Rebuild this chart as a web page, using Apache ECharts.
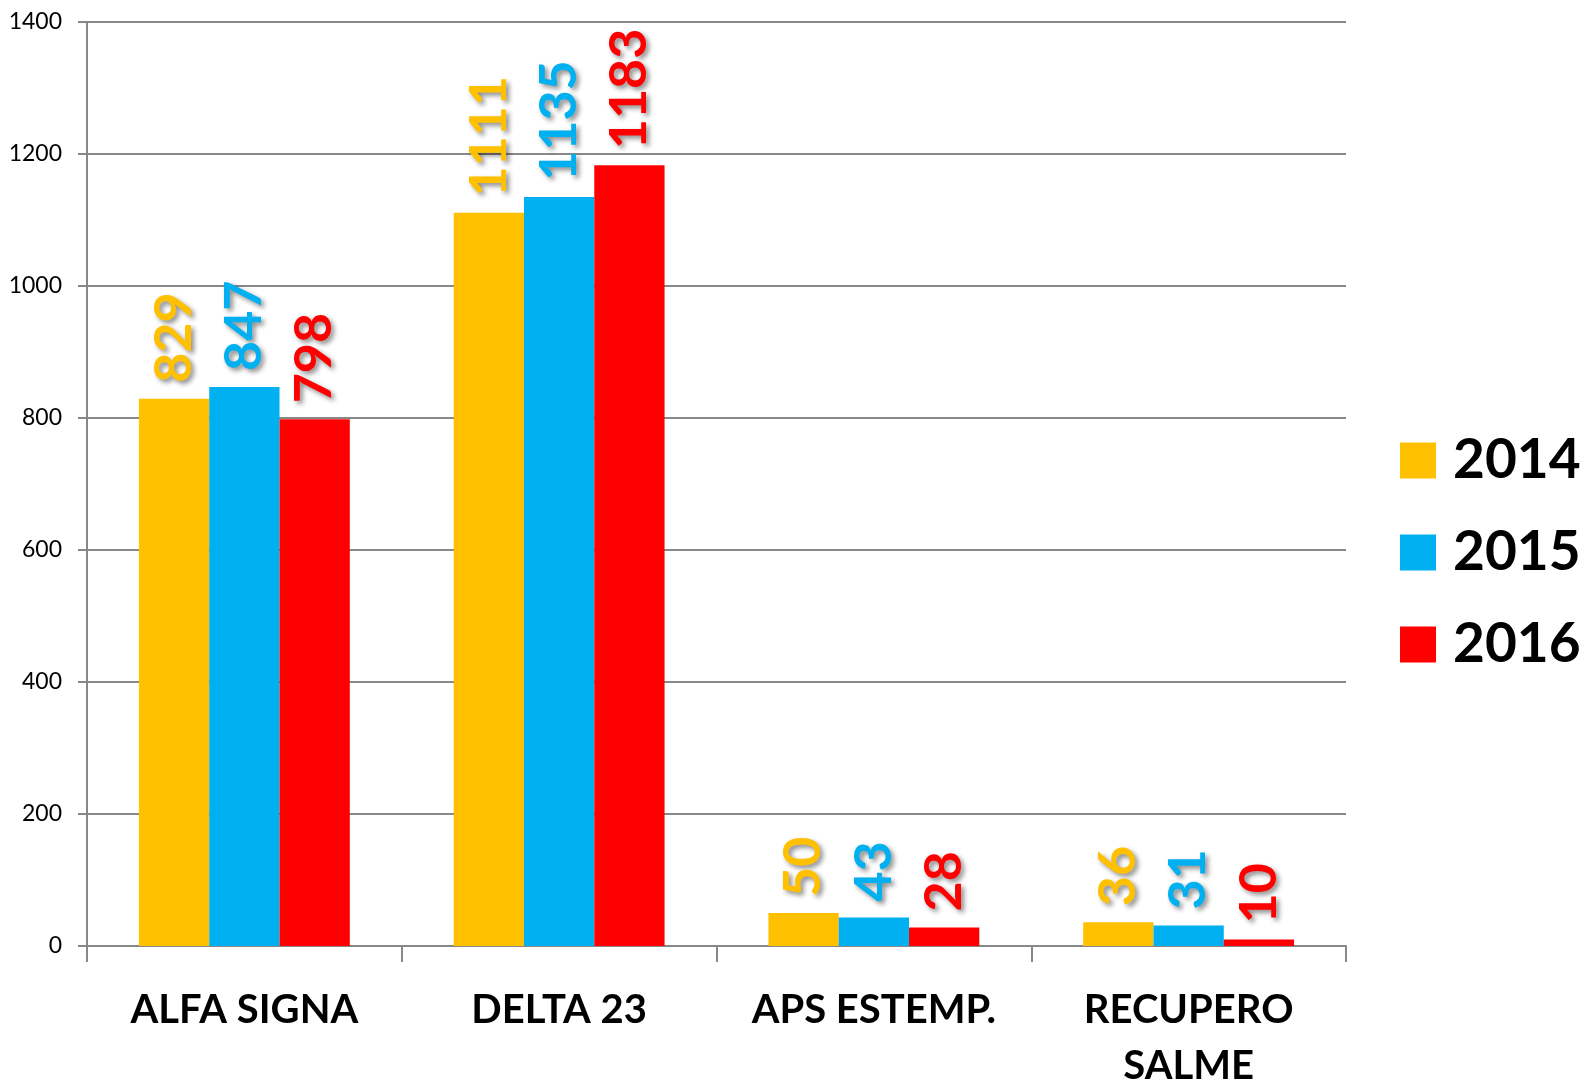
<!DOCTYPE html>
<html>
<head>
<meta charset="utf-8">
<script src="https://cdn.jsdelivr.net/npm/echarts@6/dist/echarts.min.js"></script>
<style>
  html, body { margin: 0; padding: 0; background: #fff; }
  #chart { width: 1585px; height: 1083px; }
</style>
</head>
<body>
<div id="chart"></div>
<script>
// dati
const categories = ['ALFA SIGNA', 'DELTA 23', 'APS ESTEMP.', 'RECUPERO\nSALME']
const years = ['2014', '2015', '2016']
const values2014 = [829, 1111, 50, 36]
const values2015 = [847, 1135, 43, 31]
const values2016 = [798, 1183, 28, 10]
const yTicks = [0, 200, 400, 600, 800, 1000, 1200, 1400]

const colors = ['#FFC000', '#00B0F0', '#FF0000']
const seriesData = [values2014, values2015, values2016]

const chart = echarts.init(document.getElementById('chart'))

const option = {
  animation: false,
  textStyle: { fontFamily: 'Lato' },
  legend: {
    orient: 'vertical',
    left: 1395,
    top: 428,
    itemWidth: 36,
    itemHeight: 36,
    itemGap: 37,
    icon: 'rect',
    data: years,
    textStyle: {
      fontSize: 55,
      fontWeight: 'bold',
      color: '#000',
      fontFamily: 'Lato',
      padding: [0, 0, 0, 12]
    }
  },
  grid: {
    left: 87,
    right: 239,
    top: 22,
    bottom: 137,
    containLabel: false,
    outerBoundsMode: 'none'
  },
  xAxis: {
    type: 'category',
    data: categories,
    axisLine: { lineStyle: { color: '#888', width: 2 } },
    axisTick: { show: true, interval: 0, length: 16, lineStyle: { color: '#888', width: 2 } },
    axisLabel: {
      interval: 0,
      margin: 36,
      fontSize: 40,
      fontWeight: 'bold',
      color: '#000',
      lineHeight: 56,
      fontFamily: 'Lato'
    }
  },
  yAxis: {
    type: 'value',
    min: yTicks[0],
    max: yTicks[yTicks.length - 1],
    interval: 200,
    axisLine: { show: true, lineStyle: { color: '#888', width: 2 } },
    axisTick: { show: true, length: 9, lineStyle: { color: '#888', width: 2 } },
    splitLine: { lineStyle: { color: '#888', width: 2 } },
    axisLabel: {
      margin: 25,
      fontSize: 23,
      color: '#000',
      fontFamily: 'Lato',
      formatter: v => String(v)
    }
  },
  series: years.map((name, i) => ({
    name: name,
    type: 'bar',
    data: seriesData[i],
    barGap: '0%',
    barCategoryGap: '33%',
    itemStyle: { color: colors[i] },
    label: {
      show: true,
      position: 'top',
      rotate: 90,
      align: 'left',
      verticalAlign: 'middle',
      distance: 16,
      fontSize: 52,
      fontWeight: 'bold',
      color: colors[i],
      fontFamily: 'Lato',
      textShadowColor: 'rgba(0,0,0,0.45)',
      textShadowBlur: 5,
      textShadowOffsetX: 3,
      textShadowOffsetY: 3
    }
  }))
}

chart.setOption(option)

window.addEventListener('resize', () => {
  chart.resize()
})
</script>
</body>
</html>
